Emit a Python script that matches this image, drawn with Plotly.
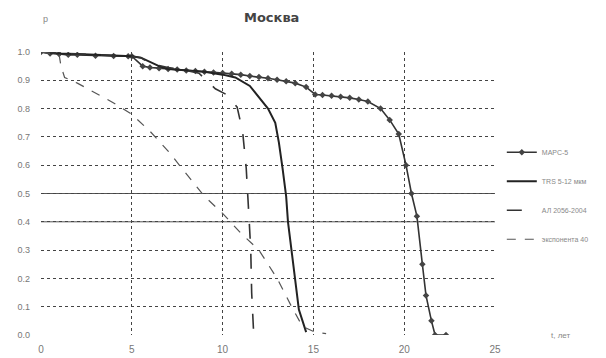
import plotly.graph_objects as go

# ---- data ----
mars_t = [0, 0.5, 1, 1.5, 2, 3, 4, 4.8, 5.0, 5.6, 6, 6.5, 7, 7.5, 8, 8.5, 9, 9.5, 10, 10.5,
          11, 11.5, 12, 12.5, 13, 13.5, 14, 14.6, 15.1, 15.5, 16, 16.5, 17, 17.5, 18, 18.7,
          19.2, 19.7, 20.1, 20.4, 20.7, 21.0, 21.2, 21.5, 21.7, 22.3]
mars_p = [1.0, 0.995, 0.993, 0.99, 0.99, 0.987, 0.986, 0.985, 0.985, 0.95, 0.945, 0.943, 0.94,
          0.938, 0.935, 0.933, 0.93, 0.928, 0.926, 0.923, 0.92, 0.915, 0.912, 0.907, 0.902,
          0.897, 0.89, 0.876, 0.85, 0.848, 0.845, 0.842, 0.838, 0.832, 0.825, 0.80, 0.76,
          0.71, 0.60, 0.50, 0.42, 0.25, 0.14, 0.05, 0.0, 0.0]

trs_t = [0, 1, 2, 3, 4, 5, 5.5, 6, 6.5, 7, 8, 9, 10, 10.7, 11.5, 12.0, 12.5, 12.9, 13.1,
         13.3, 13.5, 13.6, 13.8, 14.0, 14.2, 14.6]
trs_p = [1.0, 0.995, 0.993, 0.99, 0.988, 0.985, 0.98, 0.965, 0.95, 0.94, 0.935, 0.93, 0.92,
         0.91, 0.88, 0.84, 0.80, 0.75, 0.68, 0.59, 0.49, 0.40, 0.29, 0.18, 0.09, 0.01]

al_t = [0, 1, 2, 3, 4, 5, 5.5, 6, 7, 8, 8.7, 9.1, 9.6, 10.2, 10.8, 11.1, 11.3, 11.45, 11.55,
        11.6, 11.7]
al_p = [1.0, 0.995, 0.993, 0.99, 0.988, 0.985, 0.98, 0.96, 0.945, 0.935, 0.925, 0.90, 0.87,
        0.85, 0.805, 0.72, 0.59, 0.42, 0.30, 0.15, 0.02]

exp_t = [0, 1.0, 1.1, 1.3, 2, 3, 4, 5, 6, 7, 8, 9, 10, 11, 12, 13, 13.8, 14.4, 15.1, 15.7]
exp_p = [1.0, 0.99, 0.95, 0.91, 0.89, 0.855, 0.82, 0.78, 0.72, 0.65, 0.57, 0.49, 0.43, 0.36,
         0.30, 0.20, 0.10, 0.03, 0.01, 0.005]

series_names = ["МАРС-5", "TRS 5-12 мкм", "АЛ 2056-2004", "экспонента 40"]
x_ticks = [0, 5, 10, 15, 20, 25]
y_ticks = [0.0, 0.1, 0.2, 0.3, 0.4, 0.5, 0.6, 0.7, 0.8, 0.9, 1.0]
y_labels = ["0.0", "0.1", "0.2", "0.3", "0.4", "0.5", "0.6", "0.7", "0.8", "0.9", "1.0"]
y_grid = y_ticks[1:]
solid_grid = [0.4, 0.5]
title_text = "Москва"
y_title = "p"
x_title = "t, лет"

FONT = "Liberation Sans, Arial, sans-serif"

fig = go.Figure()
fig.add_trace(go.Scatter(
    x=mars_t, y=mars_p, name=series_names[0], mode="lines+markers", legendgroup="a",
    line=dict(color="#333333", width=1.6),
    marker=dict(symbol="diamond", size=5, color="#444444")))
fig.add_trace(go.Scatter(
    x=trs_t, y=trs_p, name=series_names[1], mode="lines", legendgroup="b",
    line=dict(color="#222222", width=2)))
fig.add_trace(go.Scatter(
    x=al_t, y=al_p, name=series_names[2], mode="lines", legendgroup="c",
    line=dict(color="#333333", width=1.6, dash="longdash")))
fig.add_trace(go.Scatter(
    x=exp_t, y=exp_p, name=series_names[3], mode="lines", legendgroup="d",
    line=dict(color="#555555", width=1.2, dash="dash")))

for yv in solid_grid:
    fig.add_shape(type="line", xref="paper", x0=0, x1=1, yref="y", y0=yv, y1=yv,
                  line=dict(color="#555555", width=1), layer="below")

fig.update_layout(
    width=598, height=350,
    margin=dict(l=33, r=109, t=44, b=23),
    paper_bgcolor="white", plot_bgcolor="white",
    font=dict(family=FONT, size=9, color="#777777"),
    title=dict(text="<b>" + title_text + "</b>", x=0.441, xanchor="center", y=0.974,
               yanchor="middle",
               font=dict(family="DejaVu Sans, sans-serif", size=13, color="#444444")),
    showlegend=True,
    legend=dict(x=1.015, y=0.697, xanchor="left", yanchor="top", tracegroupgap=10,
                itemwidth=30, font=dict(family=FONT, size=7, color="#888888"),
                bgcolor="rgba(0,0,0,0)", borderwidth=0),
    xaxis=dict(range=[0, 25], tickvals=x_ticks, ticktext=[str(v) for v in x_ticks],
               showgrid=True, gridcolor="#444444", griddash="dot", gridwidth=1,
               zeroline=False, showline=False, ticks="", tickfont=dict(size=10),
               ticklabelstandoff=7, automargin=False),
    yaxis=dict(range=[0, 1.0], tickvals=y_ticks, ticktext=y_labels,
               showgrid=False, zeroline=False, showline=False, ticks="",
               ticklabelstandoff=10, tickfont=dict(size=9), automargin=False,
               minor=dict(tickvals=y_grid, showgrid=True, gridcolor="#444444",
                          griddash="dot", gridwidth=1, ticks="")),
    annotations=[
        dict(text=y_title, xref="paper", yref="paper", x=0.0, y=1.14, showarrow=False,
             font=dict(size=9, color="#888888")),
        dict(text=x_title, xref="paper", yref="paper", x=1.12, y=0.0, xanchor="left",
             yanchor="middle", showarrow=False, font=dict(size=8, color="#888888")),
    ],
)

fig.write_html("out.html")
